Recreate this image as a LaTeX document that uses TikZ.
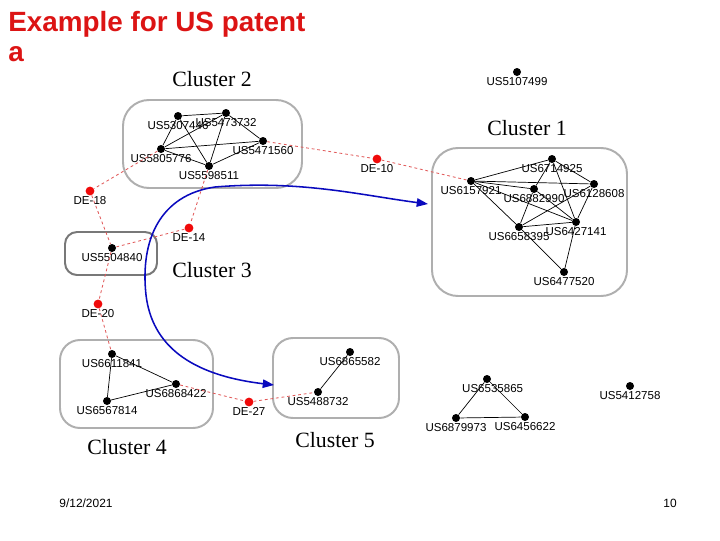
\documentclass[tikz,border=0pt]{standalone}
\usepackage{fontspec}
\setmainfont{Liberation Serif}
\setsansfont{Liberation Sans}
\usepackage{tikz}
\usetikzlibrary{arrows.meta}

\definecolor{titlered}{RGB}{220,20,20}
\definecolor{dotred}{RGB}{240,10,10}
\definecolor{linkred}{RGB}{225,90,90}
\definecolor{boxgray}{RGB}{175,175,175}
\definecolor{boxdark}{RGB}{120,120,120}
\definecolor{flowblue}{RGB}{10,10,190}

\tikzset{
	lbl/.style={font=\sffamily\fontsize{8.2}{9}\selectfont, inner sep=0.3pt},
	every label/.style=lbl,
	pat/.style={circle, fill=black, inner sep=0pt, minimum size=0.2cm, label distance=2.9pt},
	de/.style={circle, fill=dotred, inner sep=0pt, minimum size=0.22cm, label distance=2.9pt},
	link/.style={black, line width=0.5pt},
	citation/.style={linkred, dash pattern=on 2pt off 2pt, line width=0.6pt},
	cluster/.style={boxgray, line width=1.4pt, rounded corners=0.65cm},
	cname/.style={font=\fontsize{15.5}{18}\selectfont},
	flow/.style={flowblue, line width=1.1pt, {Triangle[length=8pt,width=6pt]}-{Triangle[length=8pt,width=6pt]}}
}

\begin{document}
\begin{tikzpicture}[x=0.025cm, y=-0.025cm]
\useasboundingbox (0,0) rectangle (720,540);

% cluster frames
\draw[cluster] (123,100) rectangle (302,188);
\draw[cluster] (432,148) rectangle (627,296);
\draw[cluster, boxdark, rounded corners=0.3cm] (65,232) rectangle (157,275);
\draw[cluster, rounded corners=0.5cm] (60,340) rectangle (213,428);
\draw[cluster, rounded corners=0.5cm] (273,338) rectangle (399,418);

% titles
\node[anchor=north west, align=left, inner sep=0pt, text=titlered, font=\sffamily\bfseries\fontsize{19.8}{21.5}\selectfont] (title) at (8,11) {Example for US patent\\a};
\node[cname] (c2) at (212,79) {Cluster 2};
\node[cname] (c1) at (527,128) {Cluster 1};
\node[cname] (c3) at (212,270) {Cluster 3};
\node[cname] (c4) at (127,447) {Cluster 4};
\node[cname] (c5) at (335,440) {Cluster 5};

% cluster 2
\node[pat, label={below:US5307446}] (us5307446) at (178,116) {};
\node[pat, label={below:US5473732}] (us5473732) at (226,113) {};
\node[pat, label={below:US5471560}] (us5471560) at (263,141) {};
\node[pat, label={below:US5805776}] (us5805776) at (161,149) {};
\node[pat, label={below:US5598511}] (us5598511) at (209,166) {};

% cluster 1
\node[pat, label={below:US6714925}] (us6714925) at (552,159) {};
\node[pat, label={below:US6157921}] (us6157921) at (471,181) {};
\node[pat, label={below:US6882990}] (us6882990) at (534,189) {};
\node[pat, label={below:US6128608}] (us6128608) at (594,184) {};
\node[pat, label={below:US6427141}] (us6427141) at (576,222) {};
\node[pat, label={below:US6658395}] (us6658395) at (519,227) {};
\node[pat, label={below:US6477520}] (us6477520) at (564,272) {};

% cluster 3, 4, 5
\node[pat, label={below:US5504840}] (us5504840) at (112,248) {};
\node[pat, label={below:US6611841}] (us6611841) at (112,354) {};
\node[pat, label={below:US6868422}] (us6868422) at (176,384) {};
\node[pat, label={below:US6567814}] (us6567814) at (107,401) {};
\node[pat, label={below:US6865582}] (us6865582) at (350,352) {};
\node[pat, label={below:US5488732}] (us5488732) at (318,392) {};

% the rest
\node[pat, label={below:US5107499}] (us5107499) at (517,72) {};
\node[pat, label={[xshift=4pt]below:US6535865}] (us6535865) at (487,379) {};
\node[pat, label={below:US6879973}] (us6879973) at (456,418) {};
\node[pat, label={below:US6456622}] (us6456622) at (525,417) {};
\node[pat, label={below:US5412758}] (us5412758) at (630,386) {};

% examiner citations
\node[de, label={below:DE-10}] (de10) at (377,159) {};
\node[de, label={below:DE-18}] (de18) at (90,191) {};
\node[de, label={below:DE-14}] (de14) at (189,228) {};
\node[de, label={below:DE-20}] (de20) at (98,304) {};
\node[de, label={below:DE-27}] (de27) at (249,402) {};

\foreach \a/\b in {us5307446/us5473732, us5307446/us5805776, us5307446/us5598511,
	us5473732/us5471560, us5473732/us5598511, us5473732/us5805776,
	us5805776/us5471560, us5805776/us5598511, us5598511/us5471560,
	us6157921/us6714925, us6157921/us6128608, us6157921/us6882990,
	us6157921/us6658395, us6157921/us6427141, us6714925/us6128608,
	us6714925/us6882990, us6714925/us6427141, us6882990/us6658395,
	us6882990/us6427141, us6128608/us6427141, us6128608/us6658395,
	us6658395/us6427141, us6427141/us6477520, us6658395/us6477520,
	us6611841/us6567814, us6611841/us6868422, us6567814/us6868422,
	us6865582/us5488732,
	us6535865/us6879973, us6535865/us6456622, us6879973/us6456622}
	\draw[link] (\a) -- (\b);

\foreach \a/\b in {us5471560/de10, de10/us6157921, us5805776/de18, de18/us5504840,
	us5598511/de14, de14/us5504840, us5504840/de20, de20/us6611841,
	us6868422/de27, de27/us5488732}
	\draw[citation] (\a) -- (\b);

% flow arrows
\coordinate (toc1) at (428,204);
\coordinate (toc5) at (274,385);
\draw[flow] (toc5) .. controls (190,375) and (152,345) .. (146,295)
	.. controls (140,240) and (160,195) .. (215,187)
	.. controls (300,180) and (360,195) .. (toc1);

% footer
\node[font=\sffamily\fontsize{8.5}{10}\selectfont] (date) at (86,503) {9/12/2021};
\node[font=\sffamily\fontsize{8.5}{10}\selectfont] (page) at (670,503) {10};
\end{tikzpicture}
\end{document}
